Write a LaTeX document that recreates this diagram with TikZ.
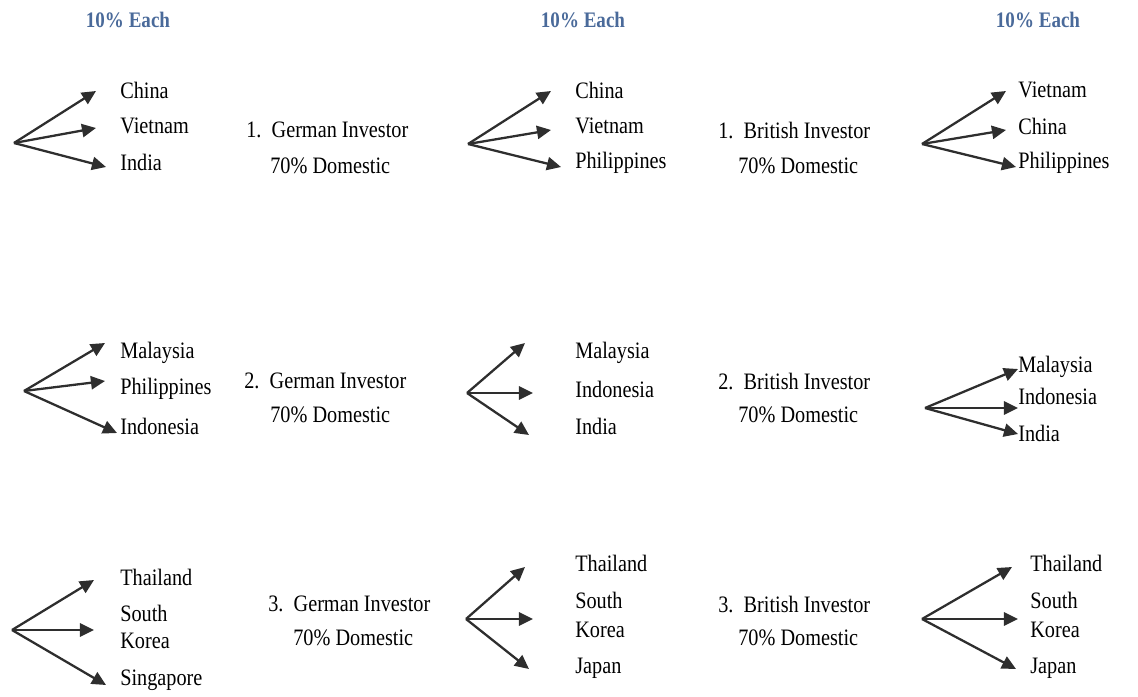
\documentclass[tikz,border=0pt]{standalone}
\usepackage{fontspec}
\setmainfont{Liberation Serif}[FakeStretch=0.86]
\usetikzlibrary{arrows.meta}
\definecolor{headblue}{HTML}{4A6A9A}
\definecolor{arrowgray}{HTML}{2E2E2E}
\tikzset{
  lbl/.style={anchor=west,inner sep=0pt,font=\fontsize{13.4}{16}\selectfont},
  head/.style={inner sep=0pt,text=headblue,font=\fontsize{12.6}{16}\selectfont\bfseries},
  fork/.style={draw=arrowgray,line width=1.3pt,-{Triangle[length=8pt,width=7.5pt]}}
}
\begin{document}
\begin{tikzpicture}[x=0.02cm,y=-0.02cm]
\useasboundingbox (0,0) rectangle (1138,696);
% headers
\node[head] (h1) at (128,20) {10\% Each};
\node[head] (h2) at (583,20) {10\% Each};
\node[head] (h3) at (1038,20) {10\% Each};
% ---------- Row 1 ----------
\coordinate (o11) at (14,143);
\coordinate (t11a) at (96,91); \coordinate (t11b) at (96,128); \coordinate (t11c) at (106,167);
\node[lbl] (c11a) at (120,90) {China};
\node[lbl] (c11b) at (120,126) {Vietnam};
\node[lbl] (c11c) at (120,162) {India};
\draw[fork] (o11) -- (t11a); \draw[fork] (o11) -- (t11b); \draw[fork] (o11) -- (t11c);
\node[lbl] (g1) at (246,130) {1.\ \ German Investor};
\node[lbl] (g1d) at (270,166) {70\% Domestic};
\coordinate (o12) at (468,144);
\coordinate (t12a) at (551,91); \coordinate (t12b) at (551,130); \coordinate (t12c) at (561,167);
\node[lbl] (c12a) at (575,90) {China};
\node[lbl] (c12b) at (575,126) {Vietnam};
\node[lbl] (c12c) at (575,163) {Philippines};
\draw[fork] (o12) -- (t12a); \draw[fork] (o12) -- (t12b); \draw[fork] (o12) -- (t12c);
\node[lbl] (b1) at (718,130) {1.\ \ British Investor};
\node[lbl] (b1d) at (738,166) {70\% Domestic};
\coordinate (o13) at (922,144);
\coordinate (t13a) at (1006,91); \coordinate (t13b) at (1006,130); \coordinate (t13c) at (1016,167);
\node[lbl] (c13a) at (1018,90) {Vietnam};
\node[lbl] (c13b) at (1018,126) {China};
\node[lbl] (c13c) at (1018,163) {Philippines};
\draw[fork] (o13) -- (t13a); \draw[fork] (o13) -- (t13b); \draw[fork] (o13) -- (t13c);
% ---------- Row 2 ----------
\coordinate (o21) at (24,391);
\coordinate (t21a) at (105,343); \coordinate (t21b) at (105,381); \coordinate (t21c) at (117,433);
\node[lbl] (c21a) at (120,353) {Malaysia};
\node[lbl] (c21b) at (120,389) {Philippines};
\node[lbl] (c21c) at (120,426) {Indonesia};
\draw[fork] (o21) -- (t21a); \draw[fork] (o21) -- (t21b); \draw[fork] (o21) -- (t21c);
\node[lbl] (g2) at (244,381) {2.\ \ German Investor};
\node[lbl] (g2d) at (270,415) {70\% Domestic};
\coordinate (o22) at (467,393);
\coordinate (t22a) at (525,343); \coordinate (t22b) at (533,393); \coordinate (t22c) at (529,435);
\node[lbl] (c22a) at (575,353) {Malaysia};
\node[lbl] (c22b) at (575,389) {Indonesia};
\node[lbl] (c22c) at (575,426) {India};
\draw[fork] (o22) -- (t22a); \draw[fork] (o22) -- (t22b); \draw[fork] (o22) -- (t22c);
\node[lbl] (b2) at (718,381) {2.\ \ British Investor};
\node[lbl] (b2d) at (738,415) {70\% Domestic};
\coordinate (o23) at (925,408);
\coordinate (t23a) at (1018,369); \coordinate (t23b) at (1018,408); \coordinate (t23c) at (1018,434);
\node[lbl] (c23a) at (1018,367) {Malaysia};
\node[lbl] (c23b) at (1018,396) {Indonesia};
\node[lbl] (c23c) at (1018,433) {India};
\draw[fork] (o23) -- (t23a); \draw[fork] (o23) -- (t23b); \draw[fork] (o23) -- (t23c);
% ---------- Row 3 ----------
\coordinate (o31) at (12,630);
\coordinate (t31a) at (94,580); \coordinate (t31b) at (94,630); \coordinate (t31c) at (106,685);
\node[lbl] (c31a) at (120,577) {Thailand};
\node[lbl] (c31b) at (120,613) {South};
\node[lbl] (c31c) at (120,641) {Korea};
\node[lbl] (c31d) at (120,680) {Singapore};
\draw[fork] (o31) -- (t31a); \draw[fork] (o31) -- (t31b); \draw[fork] (o31) -- (t31c);
\node[lbl] (g3) at (268,604) {3.\ \ German Investor};
\node[lbl] (g3d) at (293,638) {70\% Domestic};
\coordinate (o32) at (466,619);
\coordinate (t32a) at (525,567); \coordinate (t32b) at (533,619); \coordinate (t32c) at (529,669);
\node[lbl] (c32a) at (575,563) {Thailand};
\node[lbl] (c32b) at (575,600) {South};
\node[lbl] (c32c) at (575,630) {Korea};
\node[lbl] (c32d) at (575,668) {Japan};
\draw[fork] (o32) -- (t32a); \draw[fork] (o32) -- (t32b); \draw[fork] (o32) -- (t32c);
\node[lbl] (b3) at (718,604) {3.\ \ British Investor};
\node[lbl] (b3d) at (738,638) {70\% Domestic};
\coordinate (o33) at (922,619);
\coordinate (t33a) at (1012,567); \coordinate (t33b) at (1018,619); \coordinate (t33c) at (1016,669);
\node[lbl] (c33a) at (1030,563) {Thailand};
\node[lbl] (c33b) at (1030,600) {South};
\node[lbl] (c33c) at (1030,630) {Korea};
\node[lbl] (c33d) at (1030,668) {Japan};
\draw[fork] (o33) -- (t33a); \draw[fork] (o33) -- (t33b); \draw[fork] (o33) -- (t33c);
\end{tikzpicture}
\end{document}
